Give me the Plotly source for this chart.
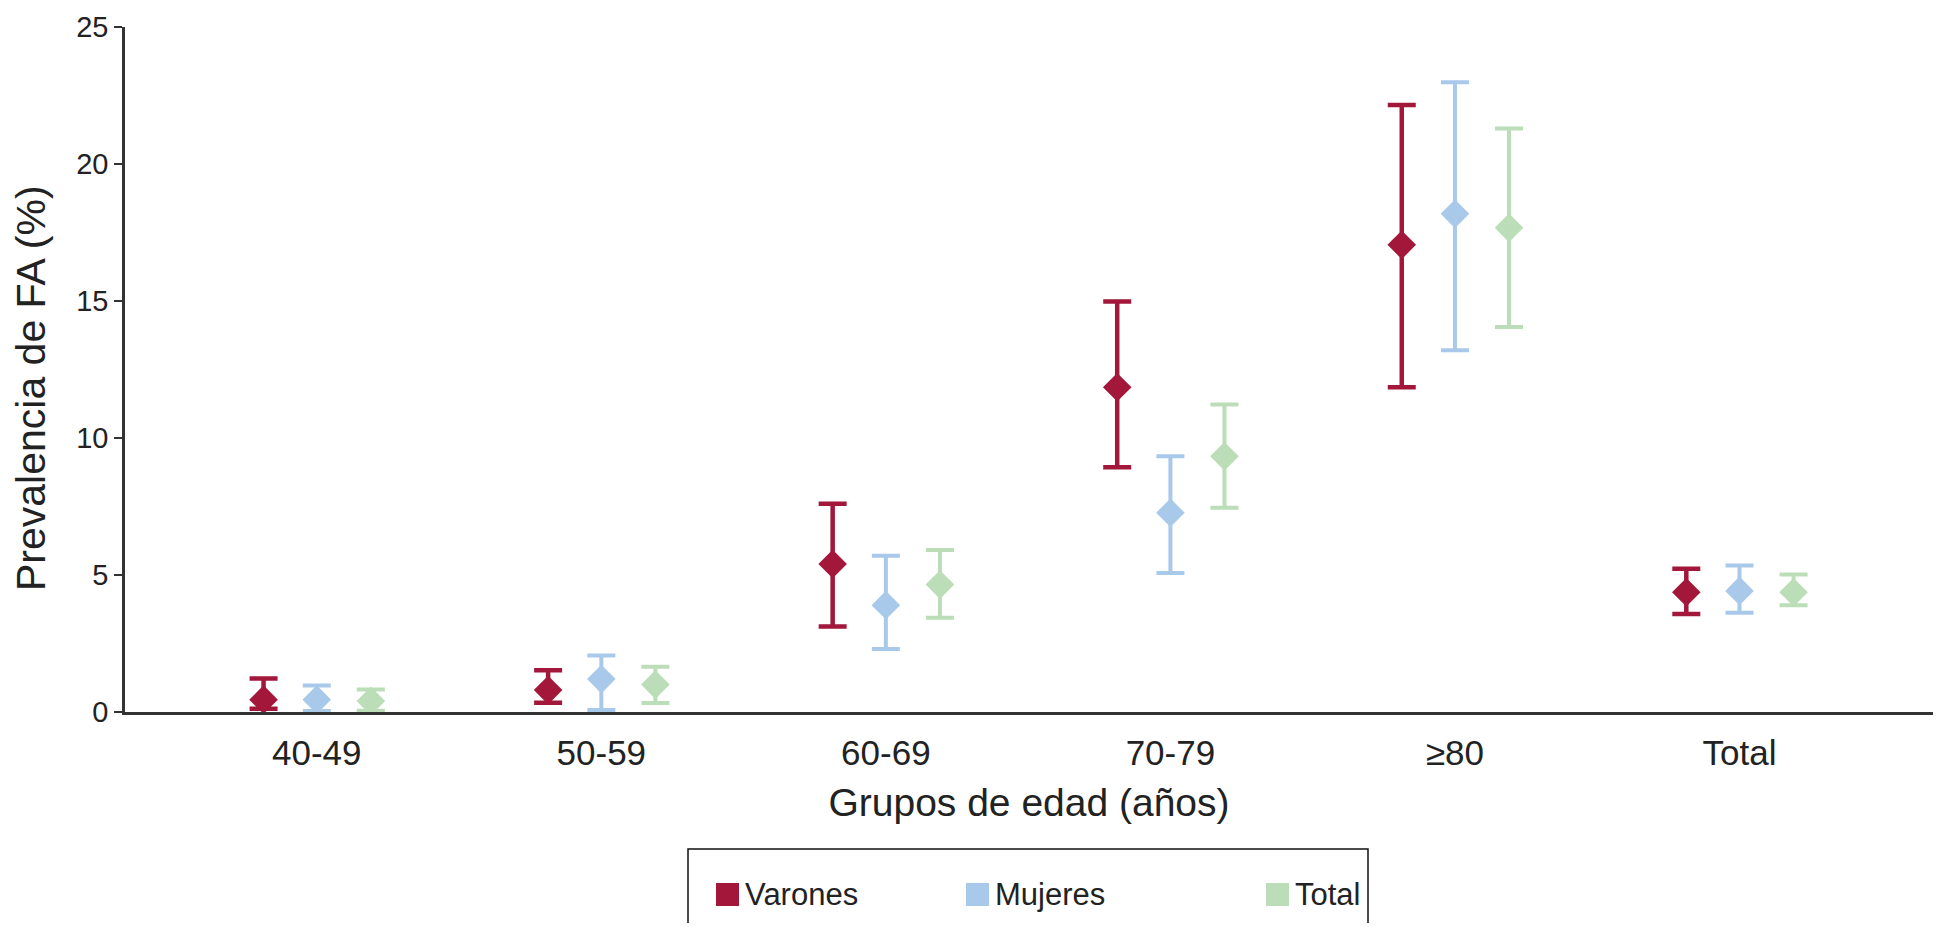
import plotly.graph_objects as go

# ---- data ----
categories = ["40-49", "50-59", "60-69", "70-79", "≥80", "Total"]
series_names = ["Varones", "Mujeres", "Total"]

varones = [0.45, 0.80, 5.40, 11.85, 17.05, 4.37]
varones_upper = [1.22, 1.52, 7.60, 14.98, 22.15, 5.23]
varones_lower = [0.12, 0.34, 3.12, 8.93, 11.85, 3.58]

mujeres = [0.45, 1.20, 3.90, 7.27, 18.18, 4.42]
mujeres_upper = [0.97, 2.06, 5.70, 9.33, 22.98, 5.35]
mujeres_lower = [0.04, 0.07, 2.30, 5.07, 13.20, 3.62]

total = [0.40, 1.00, 4.65, 9.33, 17.67, 4.37]
total_upper = [0.82, 1.65, 5.91, 11.22, 21.30, 5.02]
total_lower = [0.05, 0.33, 3.44, 7.45, 14.05, 3.90]

y_ticks = [0, 5, 10, 15, 20, 25]

# ---- styles ----
colors = {"Varones": "#A3173B", "Mujeres": "#A9C9EA", "Total": "#BBDDB7"}
thick = {"Varones": 4.5, "Mujeres": 4, "Total": 4}
offsets = {"Varones": -0.187, "Mujeres": 0.0, "Total": 0.19}
FONT = "Liberation Sans, Arial, Helvetica, sans-serif"
TXT = "#222222"

series = {
    "Varones": (varones, varones_upper, varones_lower),
    "Mujeres": (mujeres, mujeres_upper, mujeres_lower),
    "Total": (total, total_upper, total_lower),
}

fig = go.Figure()
for name in series_names:
    vals, up, lo = series[name]
    xs = [i + offsets[name] for i in range(len(categories))]
    fig.add_trace(go.Scatter(
        x=xs, y=vals, mode="markers", name=name, showlegend=False,
        marker=dict(symbol="diamond", size=22, color=colors[name]),
        error_y=dict(type="data", symmetric=False,
                     array=[u - v for u, v in zip(up, vals)],
                     arrayminus=[v - l for v, l in zip(vals, lo)],
                     color=colors[name], thickness=thick[name], width=14),
    ))

# page offset (default 8px body margin) and geometry in page pixels
OFF = 8
W, H = 1941 - 2 * OFF, 931 - 2 * OFF
PL, PR, PT, PB = 125, 1934, 27, 712          # plot area in page pixels
ML, MR, MT, MB = PL - OFF, (W + OFF) - PR, PT - OFF, (H + OFF) - PB
MR = max(MR, 0)
PW, PH = W - ML - MR, H - MT - MB


def px(x):
    return (x - OFF - ML) / PW


def py(y):
    return (H - MB - (y - OFF)) / PH


shapes = [dict(type="rect", xref="paper", yref="paper",
               x0=px(688), x1=px(1368), y0=py(950), y1=py(849),
               line=dict(color="#111111", width=1.5), fillcolor="rgba(0,0,0,0)")]
annotations = []
legend_x = {"Varones": 716, "Mujeres": 966, "Total": 1266}
for name in series_names:
    x0 = legend_x[name]
    shapes.append(dict(type="rect", xref="paper", yref="paper",
                       x0=px(x0), x1=px(x0 + 23), y0=py(906), y1=py(883),
                       line=dict(width=0), fillcolor=colors[name]))
    annotations.append(dict(xref="paper", yref="paper", x=px(x0 + 27), y=py(894),
                            text=name, showarrow=False, xanchor="left", yanchor="middle",
                            font=dict(size=31, color=TXT, family=FONT)))

annotations.append(dict(xref="paper", yref="paper", x=px(31), y=py(388),
                        text="Prevalencia de FA (%)", textangle=-90, showarrow=False,
                        xanchor="center", yanchor="middle",
                        font=dict(size=41, color=TXT, family=FONT)))

fig.update_layout(
    width=W, height=H,
    margin=dict(l=ML, r=MR, t=MT, b=MB, autoexpand=False),
    paper_bgcolor="white", plot_bgcolor="white",
    font=dict(family=FONT, color=TXT),
    showlegend=False,
    shapes=shapes,
    annotations=annotations,
    xaxis=dict(
        range=[-0.674, 5.68], tickmode="array", automargin=False,
        tickvals=list(range(len(categories))), ticktext=categories,
        ticklabeloverflow="allow",
        showgrid=False, zeroline=False, showline=True, linecolor="#333333", linewidth=2.5,
        ticks="outside", ticklen=8, tickcolor="rgba(0,0,0,0)",
        tickfont=dict(size=35, color=TXT, family=FONT),
        title=dict(text="Grupos de edad (años)", standoff=18,
                   font=dict(size=39, color=TXT, family=FONT)),
    ),
    yaxis=dict(
        range=[0, 25], tickmode="array", tickvals=y_ticks, automargin=False,
        ticklabeloverflow="allow",
        showgrid=False, zeroline=False, showline=True, linecolor="#333333", linewidth=2.5,
        ticks="outside", ticklen=8, tickwidth=2, tickcolor="#333333",
        tickfont=dict(size=29, color=TXT, family=FONT),
    ),
)

fig.write_html("out.html")
